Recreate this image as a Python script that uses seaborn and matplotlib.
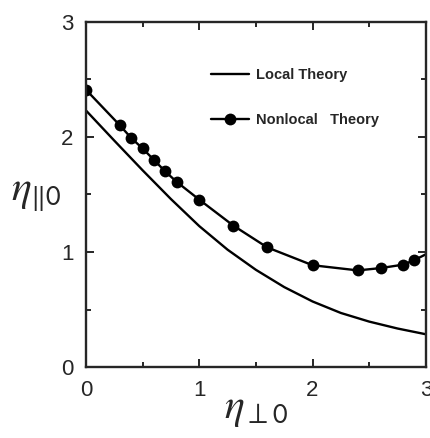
import matplotlib
matplotlib.use("Agg")
import matplotlib.pyplot as plt
import seaborn as sns
import pandas as pd
from matplotlib.ticker import MultipleLocator

# Local theory curve
local_x = [0.0, 0.25, 0.5, 0.75, 1.0, 1.25, 1.5, 1.75, 2.0, 2.25, 2.5, 2.75, 3.0]
local_y = [2.23, 1.968, 1.71, 1.46, 1.225, 1.02, 0.845, 0.695, 0.57, 0.47, 0.395, 0.335, 0.285]

# Nonlocal theory: computed points (markers) plus the curve end at 3.0
nonlocal_x = [0.0, 0.3, 0.4, 0.5, 0.6, 0.7, 0.8, 1.0, 1.3, 1.6, 2.0, 2.4, 2.6, 2.8, 2.9, 3.0]
nonlocal_y = [2.41, 2.10, 1.99, 1.90, 1.80, 1.70, 1.61, 1.455, 1.23, 1.04, 0.885, 0.84, 0.86, 0.89, 0.93, 0.98]

x_ticks = [0, 1, 2, 3]
y_ticks = [0, 1, 2, 3]

sns.set_style("ticks")
plt.rcParams["font.family"] = ["Liberation Sans", "DejaVu Sans"]
plt.rcParams["mathtext.fontset"] = "stix"

fig = plt.figure(figsize=(4.31, 4.38), dpi=100)
ax = fig.add_axes([0.1995, 0.162, 0.7885, 0.788])

df_local = pd.DataFrame({"x": local_x, "y": local_y})
df_nonlocal = pd.DataFrame({"x": nonlocal_x, "y": nonlocal_y})

sns.lineplot(data=df_local, x="x", y="y", ax=ax, color="black", lw=1.7,
             label="Local Theory", sort=False)
sns.lineplot(data=df_nonlocal, x="x", y="y", ax=ax, color="black", lw=1.7,
             marker="o", markersize=8.5, markeredgewidth=0,
             markevery=list(range(len(nonlocal_x) - 1)),
             label="Nonlocal   Theory", sort=False)

ax.set_xlim(0, 3)
ax.set_ylim(0, 3)
ax.set_xticks(x_ticks)
ax.set_yticks(y_ticks)
ax.set_xticklabels([str(t) for t in x_ticks])
ax.set_yticklabels([str(t) for t in y_ticks])
ax.xaxis.set_minor_locator(MultipleLocator(0.5))
ax.yaxis.set_minor_locator(MultipleLocator(0.5))
ax.tick_params(which="both", direction="in", top=True, right=True, width=1.4)
ax.tick_params(which="major", length=6, labelsize=16, pad=9)
ax.tick_params(which="minor", length=3.5)
for s in ax.spines.values():
    s.set_linewidth(1.7)
    s.set_visible(True)

ax.set_xlabel(r"$\eta_{\perp \mathsf{0}}$", fontsize=30, labelpad=-8)
ax.set_ylabel(r"$\eta_{\Vert \mathsf{0}}$", fontsize=30, rotation=0,
              labelpad=18, va="center")

leg = ax.legend(loc="upper left", bbox_to_anchor=(0.33, 0.905), frameon=False,
                fontsize=10.5, handlelength=2.6, handletextpad=0.45,
                labelspacing=2.15)
for t in leg.get_texts():
    t.set_fontweight("bold")

fig.savefig("out.png", dpi=100)
